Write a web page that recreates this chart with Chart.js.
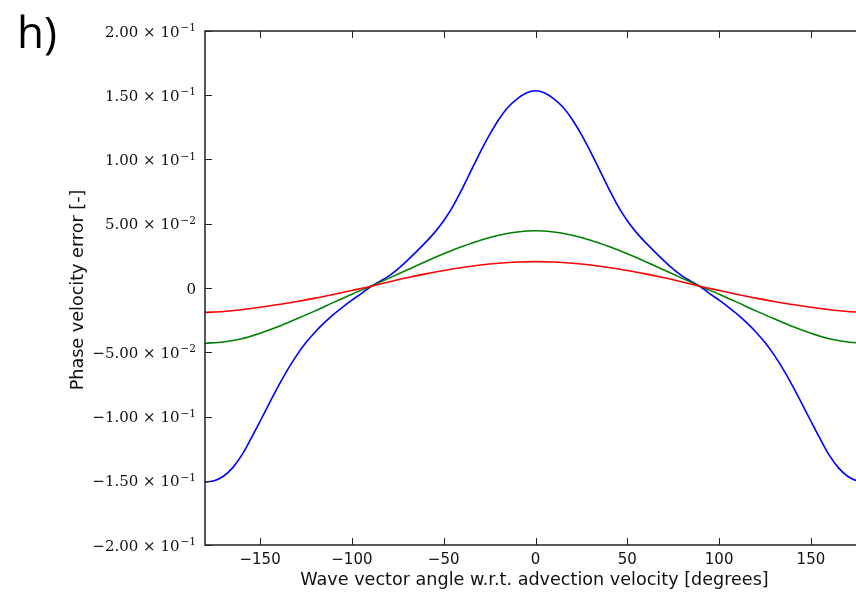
<!DOCTYPE html>
<html>
<head>
<meta charset="utf-8">
<script src="https://cdn.jsdelivr.net/npm/chart.js@4.4.1/dist/chart.umd.min.js"></script>
<style>
  html, body { margin: 0; padding: 0; background: #fff; overflow: hidden; }
  #wrap { width: 856px; height: 593px; overflow: hidden; }
</style>
</head>
<body>
<div id="wrap"><canvas id="phase-plot" width="880" height="593"></canvas></div>
<script>
// wave vector angle [degrees], 5 degree steps for the steep curve
const anglesFine = [-180, -175, -170, -165, -160, -155, -150, -145, -140, -135, -130, -125, -120, -115, -110, -105,
    -100, -95, -90, -85, -80, -75, -70, -65, -60, -55, -50, -45, -40, -35, -30, -25, -20, -15, -10, -5,
    0, 5, 10, 15, 20, 25, 30, 35, 40, 45, 50, 55, 60, 65, 70, 75, 80, 85, 90, 95, 100, 105, 110, 115,
    120, 125, 130, 135, 140, 145, 150, 155, 160, 165, 170, 175, 180];
// 10 degree steps for the flatter curves
const angles = [-180, -170, -160, -150, -140, -130, -120, -110, -100, -90, -80, -70, -60, -50, -40, -30, -20, -10,
    0, 10, 20, 30, 40, 50, 60, 70, 80, 90, 100, 110, 120, 130, 140, 150, 160, 170, 180];

// phase velocity error per curve
const blueErr = [-0.151, -0.150, -0.1465, -0.140, -0.1301, -0.1173, -0.1037, -0.0898, -0.0762, -0.0635, -0.0522,
    -0.0425, -0.0342, -0.0270, -0.0205, -0.0148, -0.0095, -0.0045, 0.0008, 0.0050, 0.0093, 0.0147, 0.0211,
    0.0281, 0.0353, 0.0431, 0.0523, 0.0635, 0.0770, 0.0915, 0.1060, 0.1193, 0.1311, 0.1406, 0.1472, 0.1518,
    0.1535,
    0.1518, 0.1472, 0.1406, 0.1311, 0.1193, 0.1060, 0.0915, 0.0770, 0.0635, 0.0523, 0.0431, 0.0353, 0.0281,
    0.0211, 0.0147, 0.0093, 0.0050, 0.0008, -0.0045, -0.0095, -0.0148, -0.0205, -0.0270, -0.0342, -0.0425,
    -0.0522, -0.0635, -0.0762, -0.0898, -0.1037, -0.1173, -0.1301, -0.140, -0.1465, -0.150, -0.151];
const greenErr = [-0.0430, -0.0420, -0.0395, -0.0352, -0.0300, -0.0240, -0.0178, -0.0112, -0.0048, 0.0012, 0.0075,
    0.0140, 0.0205, 0.0266, 0.0322, 0.0372, 0.0411, 0.0436, 0.0445, 0.0436, 0.0411, 0.0372, 0.0322, 0.0266,
    0.0205, 0.0140, 0.0075, 0.0012, -0.0048, -0.0112, -0.0178, -0.0240, -0.0300, -0.0352, -0.0395, -0.0420, -0.0430];
const redErr = [-0.0190, -0.0183, -0.0169, -0.0150, -0.0129, -0.0105, -0.0079, -0.0050, -0.0019, 0.0012, 0.0047,
    0.0080, 0.0110, 0.0136, 0.0160, 0.0179, 0.0193, 0.0202, 0.0205, 0.0202, 0.0193, 0.0179, 0.0160, 0.0136,
    0.0110, 0.0080, 0.0047, 0.0012, -0.0019, -0.0050, -0.0079, -0.0105, -0.0129, -0.0150, -0.0169, -0.0183, -0.0190];

const xTicks = [-150, -100, -50, 0, 50, 100, 150];
const yTicks = [-0.2, -0.15, -0.1, -0.05, 0, 0.05, 0.1, 0.15, 0.2];

const panelLabel = 'h)';
const xTitle = 'Wave vector angle w.r.t. advection velocity [degrees]';
const yTitle = 'Phase velocity error [-]';

const SERIF = '"DejaVu Serif", serif';
const SANS = '"DejaVu Sans", sans-serif';

function toPoints(xs, values) {
    return xs.map((a, i) => ({ x: a, y: values[i] }));
}

function sciParts(v) {
    if (Math.abs(v) < 1e-12) return null;
    const exp = Math.floor(Math.log10(Math.abs(v)) + 1e-9);
    const mant = v / Math.pow(10, exp);
    return {
        main: (mant < 0 ? '\u2212' : '') + Math.abs(mant).toFixed(2) + ' \u00d7 10',
        exp: (exp < 0 ? '\u2212' : '') + Math.abs(exp)
    };
}

// frame, inward ticks, y labels with superscripts, axis titles
const decorPlugin = {
    id: 'decor',
    afterDraw(chart) {
        const ctx = chart.ctx;
        const area = chart.chartArea;
        const xs = chart.scales.x;
        const ys = chart.scales.y;
        const tick = 7;
        ctx.save();
        ctx.strokeStyle = '#222';
        ctx.lineWidth = 1.5;
        ctx.strokeRect(area.left, area.top, area.right - area.left, area.bottom - area.top);

        ctx.lineWidth = 1;
        ctx.beginPath();
        xTicks.forEach(v => {
            const px = Math.round(xs.getPixelForValue(v)) + 0.5;
            ctx.moveTo(px, area.bottom); ctx.lineTo(px, area.bottom - tick);
            ctx.moveTo(px, area.top); ctx.lineTo(px, area.top + tick);
        });
        yTicks.forEach(v => {
            const py = Math.round(ys.getPixelForValue(v)) + 0.5;
            ctx.moveTo(area.left, py); ctx.lineTo(area.left + tick, py);
            ctx.moveTo(area.right, py); ctx.lineTo(area.right - tick, py);
        });
        ctx.stroke();

        // y tick labels
        ctx.fillStyle = '#111';
        ctx.textAlign = 'right';
        ctx.textBaseline = 'alphabetic';
        const rightX = area.left - 9;
        yTicks.forEach(v => {
            const py = ys.getPixelForValue(v);
            const parts = sciParts(v);
            if (!parts) {
                ctx.font = '15px ' + SERIF;
                ctx.fillText('0', rightX, py + 5.5);
                return;
            }
            ctx.font = '10.5px ' + SERIF;
            const ew = ctx.measureText(parts.exp).width;
            ctx.fillText(parts.exp, rightX, py);
            ctx.font = '15px ' + SERIF;
            ctx.fillText(parts.main, rightX - ew - 1, py + 5.5);
        });

        // axis titles
        ctx.fillStyle = '#111';
        ctx.font = '17.6px ' + SANS;
        ctx.textAlign = 'center';
        ctx.textBaseline = 'middle';
        ctx.fillText(xTitle, (area.left + area.right) / 2 - 1, 580);
        ctx.save();
        ctx.translate(78, (area.top + area.bottom) / 2 + 2);
        ctx.rotate(-Math.PI / 2);
        ctx.fillText(yTitle, 0, 0);
        ctx.restore();

        // panel label
        ctx.font = '44px "Open Sans", sans-serif';
        ctx.textAlign = 'left';
        ctx.textBaseline = 'alphabetic';
        ctx.fillStyle = '#000';
        ctx.fillText(panelLabel, 17, 48);
        ctx.restore();
    }
};

const lineStyle = { borderWidth: 1.6, pointRadius: 0, fill: false, cubicInterpolationMode: 'monotone' };

const config = {
    type: 'line',
    data: {
        datasets: [
            Object.assign({ label: 'blue', data: toPoints(anglesFine, blueErr), borderColor: '#0000ff', order: 2 }, lineStyle),
            Object.assign({ label: 'green', data: toPoints(angles, greenErr), borderColor: '#007f00', order: 1 }, lineStyle),
            Object.assign({ label: 'red', data: toPoints(angles, redErr), borderColor: '#ff0000', order: 0 }, lineStyle)
        ]
    },
    plugins: [decorPlugin],
    options: {
        responsive: false,
        animation: false,
        events: [],
        layout: { padding: { top: 31, right: 14, left: 0, bottom: 0 } },
        plugins: { legend: { display: false }, tooltip: { enabled: false } },
        scales: {
            x: {
                type: 'linear',
                min: -180,
                max: 180,
                afterFit: s => { s.height = 48; },
                afterBuildTicks: s => { s.ticks = xTicks.map(v => ({ value: v })); },
                grid: { display: false, drawTicks: false },
                border: { display: false },
                ticks: {
                    color: '#111',
                    padding: 6,
                    maxRotation: 0,
                    autoSkip: false,
                    font: { family: 'DejaVu Sans', size: 15 },
                    callback: v => (v < 0 ? '\u2212' + Math.abs(v) : String(v))
                }
            },
            y: {
                type: 'linear',
                min: -0.2,
                max: 0.2,
                afterFit: s => { s.width = 205; },
                grid: { display: false, drawTicks: false },
                border: { display: false },
                ticks: { display: false, stepSize: 0.05 }
            }
        }
    }
};

new Chart(document.getElementById('phase-plot'), config);
</script>
</body>
</html>
